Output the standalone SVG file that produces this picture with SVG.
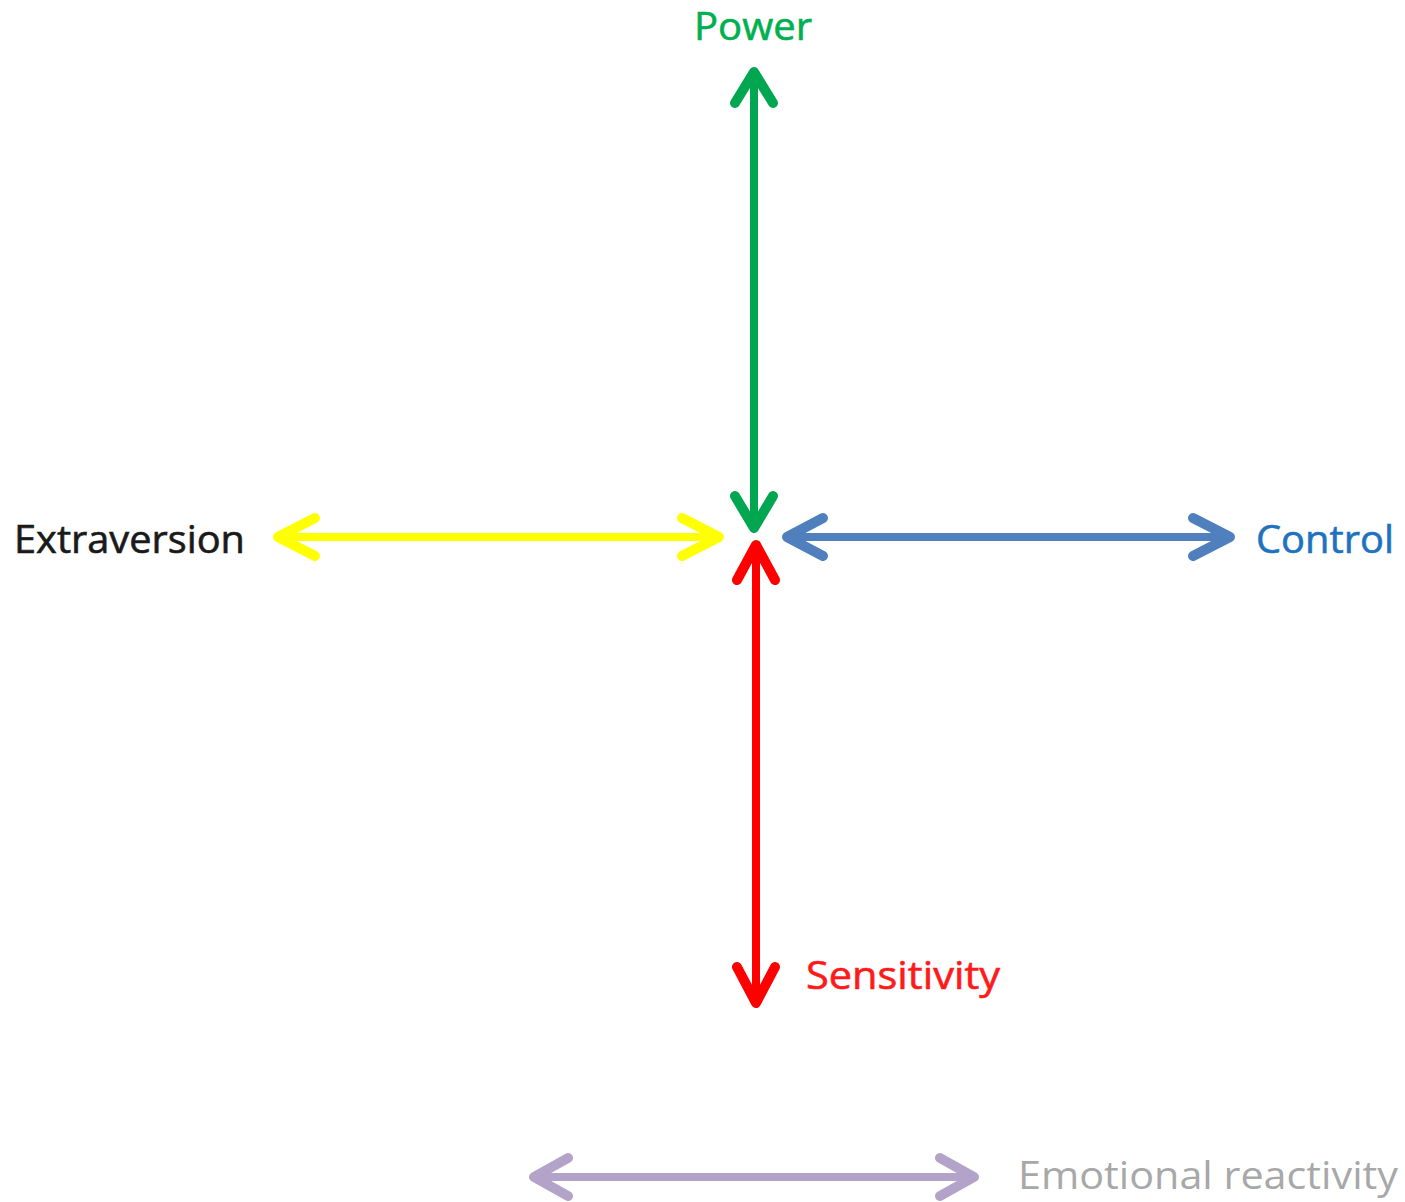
<svg xmlns="http://www.w3.org/2000/svg" width="1405" height="1202" viewBox="0 0 1405 1202">
<style>
.ax{fill:none;stroke-linecap:round;stroke-linejoin:round}
.shaft{stroke-width:8}
.head{stroke-width:10}
.g{stroke:#00a650}
.y{stroke:#ffff00}
.b{stroke:#4f7fbd}
.r{stroke:#ff0000}
.p{stroke:#b4a3c8}
.lbl{font-family:"Open Sans","Noto Sans","Liberation Sans",sans-serif;font-size:38px;stroke-width:0.6}
</style>
<rect width="1405" height="1202" fill="#ffffff"/>
<g id="connectors">
  <g id="power-axis" class="ax g">
    <path class="shaft" d="M754 72 V528"/>
    <path class="head" d="M735 103 L754 72 L773 103"/>
    <path class="head" d="M735 496 L754 528 L773 496"/>
  </g>
  <g id="extraversion-axis" class="ax y">
    <path class="shaft" d="M278 537 H719"/>
    <path class="head" d="M315 518 L278 537 L315 556"/>
    <path class="head" d="M682 518 L719 537 L682 556"/>
  </g>
  <g id="control-axis" class="ax b">
    <path class="shaft" d="M787 537 H1230"/>
    <path class="head" d="M823 518 L787 537 L823 556"/>
    <path class="head" d="M1193 518 L1230 537 L1193 556"/>
  </g>
  <g id="sensitivity-axis" class="ax r">
    <path class="shaft" d="M756 545 V1003"/>
    <path class="head" d="M737 580 L756 545 L775 580"/>
    <path class="head" d="M737 967 L756 1003 L775 967"/>
  </g>
  <g id="emotional-axis" class="ax p">
    <path class="shaft" d="M534 1177 H974"/>
    <path class="head" d="M568 1158 L534 1177 L568 1196"/>
    <path class="head" d="M940 1158 L974 1177 L940 1196"/>
  </g>
</g>
<g id="power"><text class="lbl" x="694" y="40" fill="#00b050" stroke="#00b050" textLength="118" lengthAdjust="spacingAndGlyphs">Power</text></g>
<g id="extraversion"><text class="lbl" x="14" y="553" fill="#1a1a1a" stroke="#1a1a1a" textLength="231" lengthAdjust="spacingAndGlyphs">Extraversion</text></g>
<g id="control"><text class="lbl" x="1256" y="553" fill="#1f72c0" stroke="#1f72c0" textLength="138" lengthAdjust="spacingAndGlyphs">Control</text></g>
<g id="sensitivity"><text class="lbl" x="806" y="989" fill="#ff1a1a" stroke="#ff1a1a" textLength="194" lengthAdjust="spacingAndGlyphs">Sensitivity</text></g>
<g id="emotional-reactivity"><text class="lbl" x="1018" y="1189" fill="#a8a8a8" textLength="380" lengthAdjust="spacingAndGlyphs" style="font-size:39px;stroke-width:0">Emotional reactivity</text></g>
</svg>
